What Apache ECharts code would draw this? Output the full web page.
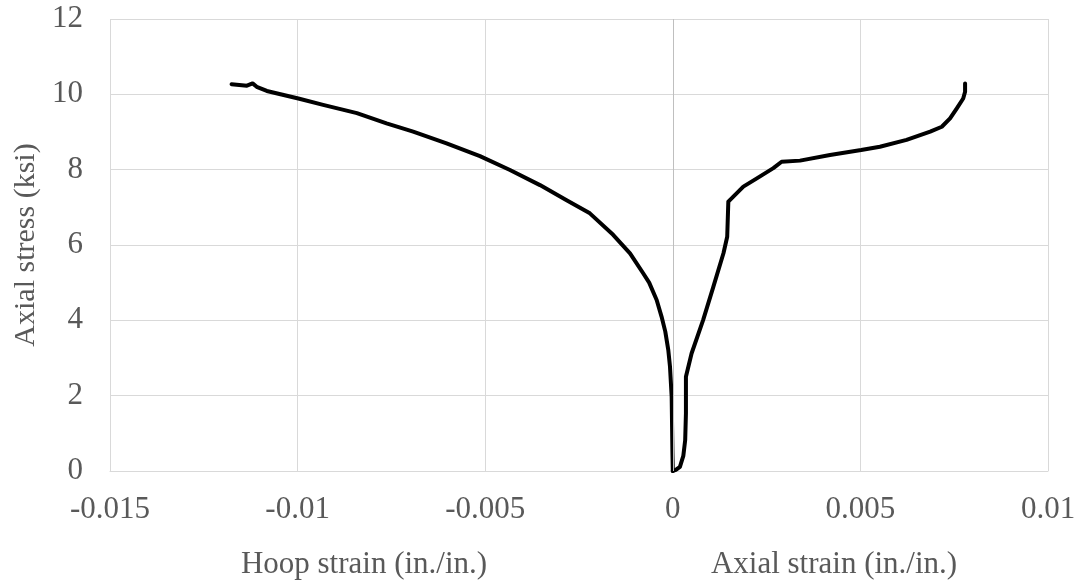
<!DOCTYPE html>
<html>
<head>
<meta charset="utf-8">
<script src="https://cdn.jsdelivr.net/npm/echarts@6/dist/echarts.min.js"></script>
<style>html,body{margin:0;padding:0;background:#fff}#c{width:1081px;height:588px}</style>
</head>
<body>
<div id="c"></div>
<script>
const xTicks = { min: -0.015, max: 0.01, interval: 0.005 };
const yTicks = { min: 0, max: 12, interval: 2 };
const hoopStrain = [0, -0.00001, -0.00003, -0.000075, -0.00012, -0.0002, -0.0003, -0.00043, -0.00063, -0.00079, -0.00114, -0.00159, -0.00221, -0.00283, -0.00354, -0.00434, -0.00514, -0.00603, -0.00692, -0.00763, -0.00842, -0.00932, -0.00998, -0.01082, -0.01109, -0.0112, -0.01135, -0.01176];
const hoopStress = [0, 0.5, 1.97, 2.77, 3.21, 3.7, 4.10, 4.54, 5.0, 5.25, 5.78, 6.27, 6.84, 7.19, 7.59, 7.99, 8.36, 8.70, 9.01, 9.23, 9.50, 9.72, 9.89, 10.09, 10.20, 10.29, 10.23, 10.27];
const axialStrain = [0, 0.00008, 0.00019, 0.00028, 0.00033, 0.00035, 0.00035, 0.0005, 0.00081, 0.00108, 0.00135, 0.00145, 0.00148, 0.0016, 0.00188, 0.00224, 0.00268, 0.0029, 0.00339, 0.00419, 0.00502, 0.00552, 0.00623, 0.00686, 0.00717, 0.00739, 0.00757, 0.00774, 0.00779, 0.00779];
const axialStress = [0, 0.03, 0.11, 0.4, 0.82, 1.53, 2.50, 3.12, 4.01, 4.89, 5.78, 6.22, 7.15, 7.27, 7.55, 7.77, 8.04, 8.21, 8.24, 8.39, 8.52, 8.61, 8.79, 9.01, 9.14, 9.36, 9.63, 9.89, 10.07, 10.29];
const yTitle = 'Axial stress (ksi)';
const hoopTitle = 'Hoop strain (in./in.)';
const axialTitle = 'Axial strain (in./in.)';

const FONT = '"Liberation Serif", "Times New Roman", serif';
const GRAY = '#595959';
const FS = 31;
const zip = (a, b) => a.map((v, i) => [v, b[i]]);

const chart = echarts.init(document.getElementById('c'));
chart.setOption({
  animation: false,
  backgroundColor: '#fff',
  grid: { left: 110, right: 33, top: 19, bottom: 117 },
  xAxis: {
    type: 'value', min: xTicks.min, max: xTicks.max, interval: xTicks.interval,
    axisLine: { show: true, onZero: false, lineStyle: { color: '#d9d9d9', width: 1 } },
    axisTick: { show: false },
    splitLine: { show: true, lineStyle: { color: '#d9d9d9', width: 1 } },
    axisLabel: { color: GRAY, fontFamily: FONT, fontSize: FS, margin: 23 }
  },
  yAxis: {
    type: 'value', min: yTicks.min, max: yTicks.max, interval: yTicks.interval,
    name: yTitle, nameLocation: 'middle', nameGap: 63,
    nameTextStyle: { color: GRAY, fontFamily: FONT, fontSize: 30 },
    axisLine: { show: false },
    axisTick: { show: false },
    splitLine: { show: true, lineStyle: { color: '#d9d9d9', width: 1 } },
    axisLabel: { color: GRAY, fontFamily: FONT, fontSize: FS, margin: 27 }
  },
  graphic: [
    { type: 'text', x: 364, y: 549, style: { text: hoopTitle, fill: GRAY, font: FS + 'px ' + FONT, textAlign: 'center', textVerticalAlign: 'top' } },
    { type: 'text', x: 834, y: 549, style: { text: axialTitle, fill: GRAY, font: FS + 'px ' + FONT, textAlign: 'center', textVerticalAlign: 'top' } }
  ],
  series: [
    {
      type: 'line', data: zip(hoopStrain, hoopStress), showSymbol: false, symbol: 'none',
      lineStyle: { color: '#000', width: 4, join: 'round', cap: 'round' },
      markLine: { silent: true, symbol: 'none', label: { show: false },
        lineStyle: { color: '#bfbfbf', width: 1, type: 'solid' }, data: [{ xAxis: 0 }] }
    },
    {
      type: 'line', data: zip(axialStrain, axialStress), showSymbol: false, symbol: 'none',
      lineStyle: { color: '#000', width: 4, join: 'round', cap: 'round' }
    }
  ]
});
</script>
</body>
</html>
